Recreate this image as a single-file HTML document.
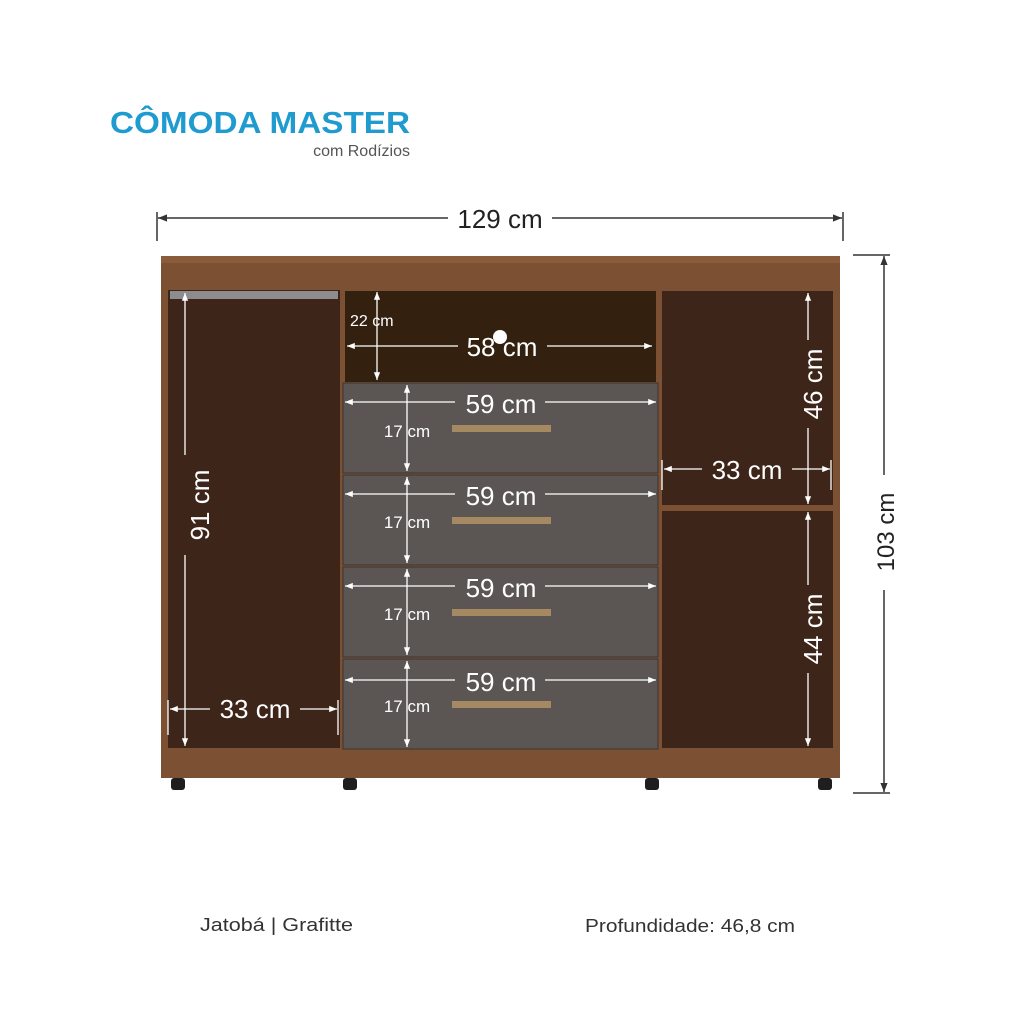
<!DOCTYPE html>
<html><head><meta charset="utf-8"><style>
body{margin:0;background:#fff;}
svg{display:block;}
text{font-family:"Liberation Sans",sans-serif;}
</style></head><body>
<svg width="1024" height="1024" viewBox="0 0 1024 1024" xmlns="http://www.w3.org/2000/svg">
<defs>
<marker id="a" viewBox="0 0 10 10" refX="10" refY="5" markerWidth="9" markerHeight="6" orient="auto-start-reverse"><path d="M0,1 L10,5 L0,9 z" fill="#fff"/></marker>
<marker id="k" viewBox="0 0 10 10" refX="10" refY="5" markerWidth="9" markerHeight="6" orient="auto-start-reverse"><path d="M0,1 L10,5 L0,9 z" fill="#333"/></marker>
</defs>
<rect width="1024" height="1024" fill="#fff"/>
<text x="110" y="133" font-size="31" font-weight="bold" fill="#1f9bd0" textLength="300" lengthAdjust="spacingAndGlyphs">CÔMODA MASTER</text>
<text x="410" y="156" font-size="16" fill="#555" text-anchor="end">com Rodízios</text>

<line x1="157" y1="212" x2="157" y2="241" stroke="#333" stroke-width="1.5"/>
<line x1="843" y1="212" x2="843" y2="241" stroke="#333" stroke-width="1.5"/>
<line x1="158" y1="218" x2="448" y2="218" stroke="#333" stroke-width="1.5" marker-start="url(#k)"/>
<line x1="552" y1="218" x2="842" y2="218" stroke="#333" stroke-width="1.5" marker-end="url(#k)"/>
<text x="500" y="228" font-size="26" fill="#222" text-anchor="middle">129 cm</text>
<line x1="853" y1="255" x2="890" y2="255" stroke="#333" stroke-width="1.5"/>
<line x1="853" y1="793" x2="890" y2="793" stroke="#333" stroke-width="1.5"/>
<line x1="884" y1="256" x2="884" y2="475" stroke="#333" stroke-width="1.5" marker-start="url(#k)"/>
<line x1="884" y1="590" x2="884" y2="792" stroke="#333" stroke-width="1.5" marker-end="url(#k)"/>
<text transform="translate(894,532) rotate(-90)" font-size="24" fill="#222" text-anchor="middle">103 cm</text>

<rect x="161" y="256" width="679" height="522" fill="#7c5033"/>
<rect x="161" y="256" width="679" height="7" fill="#8a5c3b"/>
<rect x="168" y="290" width="172" height="458" fill="#3e2519"/>
<rect x="170" y="291" width="168" height="8" fill="#8d8d8f"/>
<rect x="345" y="291" width="311" height="91" fill="#33200f"/>
<rect x="662" y="291" width="171" height="214" fill="#3e2519"/>
<rect x="662" y="511" width="171" height="237" fill="#3e2519"/>
<g fill="#5b5654" stroke="#3a3432" stroke-width="1">
<rect x="343" y="383" width="315" height="90"/>
<rect x="343" y="475" width="315" height="90"/>
<rect x="343" y="567" width="315" height="90"/>
<rect x="343" y="659" width="315" height="90"/>
</g>
<g fill="#a48962">
<rect x="452" y="425" width="99" height="7"/>
<rect x="452" y="517" width="99" height="7"/>
<rect x="452" y="609" width="99" height="7"/>
<rect x="452" y="701" width="99" height="7"/>
</g>
<g fill="#1e1e1e">
<rect x="171" y="778" width="14" height="12" rx="3"/>
<rect x="343" y="778" width="14" height="12" rx="3"/>
<rect x="645" y="778" width="14" height="12" rx="3"/>
<rect x="818" y="778" width="14" height="12" rx="3"/>
</g>

<g stroke="#fff" stroke-width="1.3" fill="none">
<line x1="185" y1="293" x2="185" y2="455" marker-start="url(#a)"/>
<line x1="185" y1="555" x2="185" y2="746" marker-end="url(#a)"/>
<line x1="170" y1="709" x2="210" y2="709" marker-start="url(#a)"/>
<line x1="300" y1="709" x2="337" y2="709" marker-end="url(#a)"/>
<line x1="168" y1="700" x2="168" y2="735"/><line x1="338" y1="700" x2="338" y2="735"/>
<line x1="377" y1="292" x2="377" y2="380" marker-start="url(#a)" marker-end="url(#a)"/>
<line x1="347" y1="346" x2="458" y2="346" marker-start="url(#a)"/>
<line x1="547" y1="346" x2="652" y2="346" marker-end="url(#a)"/>
<line x1="345" y1="402" x2="455" y2="402" marker-start="url(#a)"/><line x1="545" y1="402" x2="656" y2="402" marker-end="url(#a)"/>
<line x1="345" y1="494" x2="455" y2="494" marker-start="url(#a)"/><line x1="545" y1="494" x2="656" y2="494" marker-end="url(#a)"/>
<line x1="345" y1="586" x2="455" y2="586" marker-start="url(#a)"/><line x1="545" y1="586" x2="656" y2="586" marker-end="url(#a)"/>
<line x1="345" y1="680" x2="455" y2="680" marker-start="url(#a)"/><line x1="545" y1="680" x2="656" y2="680" marker-end="url(#a)"/>
<line x1="407" y1="385" x2="407" y2="471" marker-start="url(#a)" marker-end="url(#a)"/>
<line x1="407" y1="477" x2="407" y2="563" marker-start="url(#a)" marker-end="url(#a)"/>
<line x1="407" y1="569" x2="407" y2="655" marker-start="url(#a)" marker-end="url(#a)"/>
<line x1="407" y1="661" x2="407" y2="747" marker-start="url(#a)" marker-end="url(#a)"/>
<line x1="808" y1="293" x2="808" y2="340" marker-start="url(#a)"/>
<line x1="808" y1="428" x2="808" y2="504" marker-end="url(#a)"/>
<line x1="664" y1="469" x2="702" y2="469" marker-start="url(#a)"/>
<line x1="792" y1="469" x2="830" y2="469" marker-end="url(#a)"/>
<line x1="662" y1="460" x2="662" y2="490"/><line x1="831" y1="460" x2="831" y2="490"/>
<line x1="808" y1="512" x2="808" y2="585" marker-start="url(#a)"/>
<line x1="808" y1="673" x2="808" y2="746" marker-end="url(#a)"/>
</g>
<g fill="#fff">
<text transform="translate(209,505) rotate(-90)" font-size="26" text-anchor="middle">91 cm</text>
<text x="255" y="718" font-size="26" text-anchor="middle">33 cm</text>
<text x="350" y="326" font-size="16">22 cm</text>
<text x="502" y="356" font-size="26" text-anchor="middle">58 cm</text>
<circle cx="500" cy="337" r="7"/>
<text x="501" y="413" font-size="26" text-anchor="middle">59 cm</text>
<text x="501" y="505" font-size="26" text-anchor="middle">59 cm</text>
<text x="501" y="597" font-size="26" text-anchor="middle">59 cm</text>
<text x="501" y="691" font-size="26" text-anchor="middle">59 cm</text>
<text x="407" y="437" font-size="17" text-anchor="middle">17 cm</text>
<text x="407" y="528" font-size="17" text-anchor="middle">17 cm</text>
<text x="407" y="620" font-size="17" text-anchor="middle">17 cm</text>
<text x="407" y="712" font-size="17" text-anchor="middle">17 cm</text>
<text transform="translate(822,384) rotate(-90)" font-size="26" text-anchor="middle">46 cm</text>
<text x="747" y="479" font-size="26" text-anchor="middle">33 cm</text>
<text transform="translate(822,629) rotate(-90)" font-size="26" text-anchor="middle">44 cm</text>
</g>

<text x="200" y="931" font-size="18" fill="#333" textLength="153" lengthAdjust="spacingAndGlyphs">Jatobá | Grafitte</text>
<text x="585" y="932" font-size="18" fill="#333" textLength="210" lengthAdjust="spacingAndGlyphs">Profundidade: 46,8 cm</text>
</svg>
</body></html>
